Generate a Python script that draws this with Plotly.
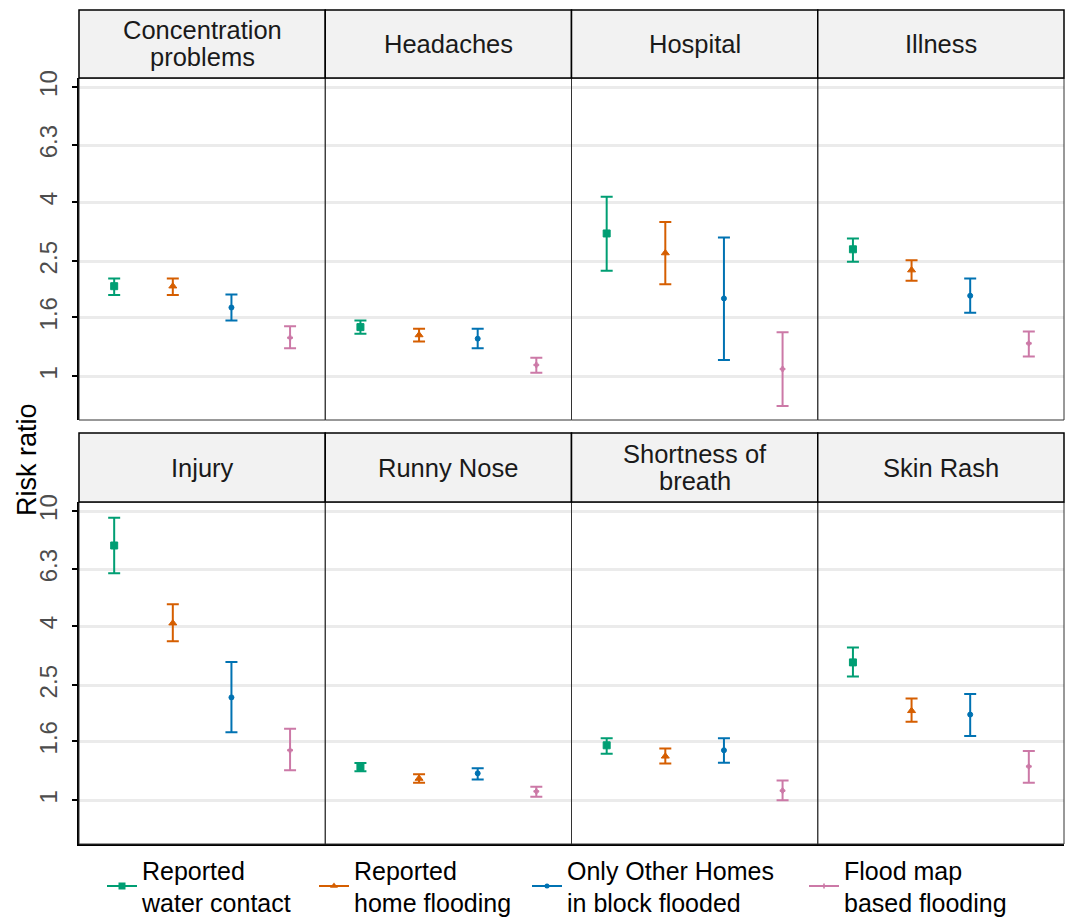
import math
import plotly.graph_objects as go

# ---------------- data ----------------
panels = ["Concentration<br>problems", "Headaches", "Hospital", "Illness",
          "Injury", "Runny Nose", "Shortness of<br>breath", "Skin Rash"]

series_names = ["Reported<br>water contact", "Reported<br>home flooding",
                "Only Other Homes<br>in block flooded", "Flood map<br>based flooding"]

est_water = [2.05, 1.48, 3.12, 2.75, 7.61, 1.305, 1.55, 3.00]
lo_water = [1.91, 1.405, 2.32, 2.49, 6.10, 1.26, 1.45, 2.68]
hi_water = [2.18, 1.56, 4.18, 3.00, 9.49, 1.347, 1.64, 3.38]

est_home = [2.05, 1.39, 2.67, 2.33, 4.10, 1.19, 1.42, 2.04]
lo_home = [1.91, 1.32, 2.08, 2.14, 3.55, 1.15, 1.34, 1.87]
hi_home = [2.18, 1.46, 3.42, 2.52, 4.77, 1.23, 1.51, 2.25]

est_block = [1.73, 1.35, 1.86, 1.90, 2.27, 1.24, 1.49, 1.98]
lo_block = [1.56, 1.25, 1.14, 1.66, 1.72, 1.18, 1.35, 1.67]
hi_block = [1.92, 1.46, 3.02, 2.18, 3.01, 1.29, 1.64, 2.33]

est_map = [1.36, 1.095, 1.06, 1.30, 1.49, 1.074, 1.08, 1.31]
lo_map = [1.25, 1.03, 0.79, 1.17, 1.27, 1.03, 1.00, 1.15]
hi_map = [1.49, 1.16, 1.42, 1.43, 1.77, 1.115, 1.17, 1.48]

tick_vals = [1, 1.6, 2.5, 4, 6.3, 10]
tick_text = ["1", "1.6", "2.5", "4", "6.3", "10"]
ref_value = 1

# ---------------- styles ----------------
colors = ["#009E73", "#D55E00", "#0072B2", "#CC79A7"]
symbols = ["square", "triangle-up", "circle", "cross"]
msizes = [7, 7, 5, 4]
FONT = "Liberation Sans, Arial, sans-serif"
legend_text_x = [146, 358, 571, 848]   # pixel position of legend text starts

est_all = [est_water, est_home, est_block, est_map]
lo_all = [lo_water, lo_home, lo_block, lo_map]
hi_all = [hi_water, hi_home, hi_block, hi_map]

W, H = 1067, 918
ML, MR, MT, MB = 79, 3, 10, 74
ph = H - MT - MB
pw = W - ML - MR

def py(pix):
    return (H - MB - pix) / ph

def px(pix):
    return (pix - ML) / pw

row_plot = [(py(420), py(78)), (0.0, py(502))]
row_strip = [(py(78), 1.0), (py(502), py(433))]
LINE_GAP = 27  # strip text line spacing in px

fig = go.Figure()
layout = {}
shapes = []
annotations = []

for k, name in enumerate(panels):
    r, c = divmod(k, 4)
    n = "" if k == 0 else str(k + 1)
    xa, ya = "x" + n, "y" + n
    for s in range(4):
        e = est_all[s][k]
        fig.add_trace(go.Scatter(
            x=[s + 1], y=[e], xaxis=xa, yaxis=ya, mode="markers",
            marker=dict(symbol=symbols[s], size=msizes[s], color=colors[s],
                        line=dict(width=1, color=colors[s])),
            error_y=dict(type="data", symmetric=False,
                         array=[hi_all[s][k] - e], arrayminus=[e - lo_all[s][k]],
                         color=colors[s], thickness=2, width=6),
            showlegend=False, hoverinfo="skip"))
    layout["xaxis" + n] = dict(
        domain=[c * 0.25, (c + 1) * 0.25], range=[0.4, 4.6],
        showticklabels=False, ticks="", showgrid=False, zeroline=False,
        showline=(r == 1), linecolor="black", linewidth=2,
        anchor=ya, fixedrange=True, automargin=False)
    layout["yaxis" + n] = dict(
        domain=list(row_plot[r]), type="log", range=[-0.151, 1.0318],
        tickvals=tick_vals, ticktext=tick_text,
        showticklabels=(c == 0), ticks="outside" if c == 0 else "",
        ticklen=5, tickwidth=1.5, tickcolor="black", tickangle=-90,
        ticklabelstandoff=5,
        tickfont=dict(size=24, color="#4D4D4D", family=FONT),
        showgrid=True, gridcolor="#EBEBEB", gridwidth=3, zeroline=False,
        showline=(c == 0), linecolor="black", linewidth=2,
        anchor=xa, fixedrange=True, automargin=False)
    # reference line at 1
    shapes.append(dict(type="line", xref=xa + " domain", yref=ya,
                       x0=0, x1=1, y0=math.log10(ref_value), y1=math.log10(ref_value),
                       line=dict(color="#333333", width=1, dash="dash")))
    # panel border
    shapes.append(dict(type="rect", xref=xa + " domain", yref=ya + " domain",
                       x0=0, x1=1, y0=0, y1=1, layer="above",
                       line=dict(color="#333333", width=1)))
    # strip
    sy0, sy1 = row_strip[r]
    shapes.append(dict(type="rect", xref="paper", yref="paper",
                       x0=c * 0.25, x1=(c + 1) * 0.25, y0=sy0, y1=sy1,
                       fillcolor="#F2F2F2", line=dict(color="black", width=1.5)))
    lines = name.split("<br>")
    nl = len(lines)
    for i, t in enumerate(lines):
        off = ((nl - 1) / 2 - i) * LINE_GAP
        annotations.append(dict(text=t, xref="paper", yref="paper",
                                x=(c + 0.5) * 0.25, y=(sy0 + sy1) / 2,
                                yshift=off,
                                xanchor="center", yanchor="middle", showarrow=False,
                                font=dict(size=25.5, color="#1A1A1A", family=FONT)))

# legend entries, each in its own legend so spacing matches
legend_defs = {}
for s in range(4):
    lname = "legend" if s == 0 else "legend" + str(s + 1)
    fig.add_trace(go.Scatter(
        x=[None], y=[None], mode="lines+markers", name=series_names[s],
        line=dict(color=colors[s], width=2),
        marker=dict(symbol=symbols[s], size=msizes[s], color=colors[s]),
        showlegend=True, legend=lname))
    legend_defs[lname] = dict(
        orientation="h", x=px(legend_text_x[s] - 44), xanchor="left",
        y=py(886), yanchor="middle",
        font=dict(size=25, color="black", family=FONT),
        bgcolor="rgba(0,0,0,0)")

annotations.append(dict(text="Risk ratio", xref="paper", yref="paper",
                        x=px(27), y=py(460), textangle=-90,
                        xanchor="center", yanchor="middle", showarrow=False,
                        font=dict(size=27, color="black", family=FONT)))

fig.update_layout(
    **layout,
    **legend_defs,
    width=W, height=H,
    margin=dict(l=ML, r=MR, t=MT, b=MB, autoexpand=False),
    paper_bgcolor="white", plot_bgcolor="white",
    font=dict(family=FONT, color="black"),
    shapes=shapes, annotations=annotations,
    showlegend=True,
)

fig.write_html("out.html", config={"displayModeBar": False},
               post_script="document.body.style.margin='0';document.body.style.overflow='hidden';")
